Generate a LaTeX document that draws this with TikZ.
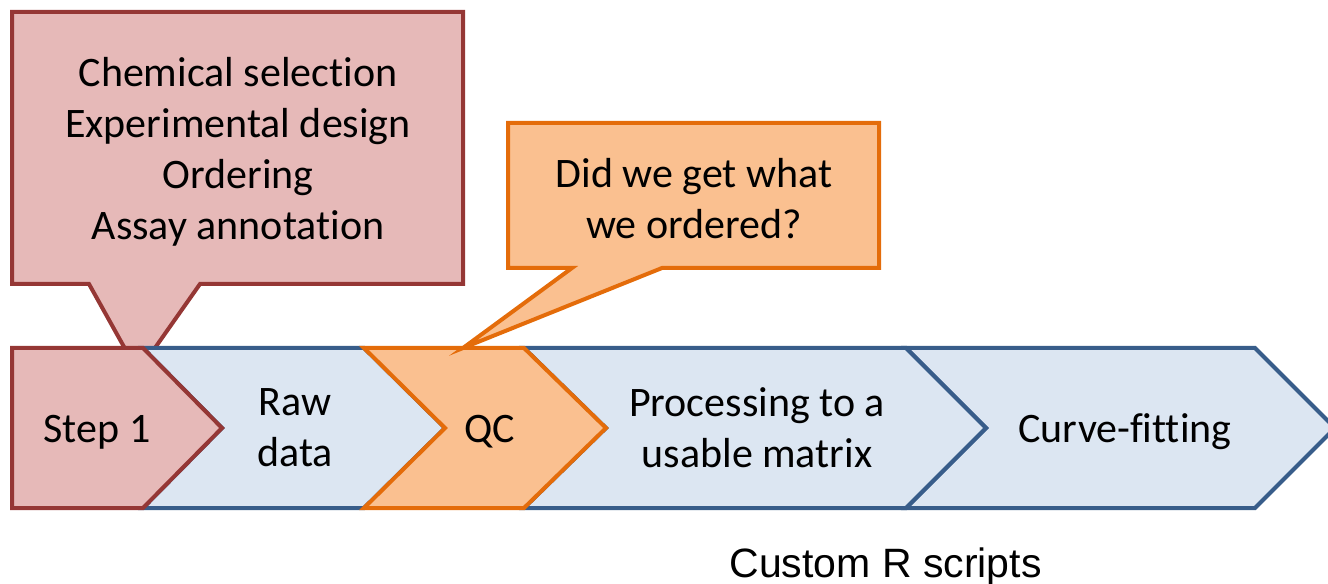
\documentclass[tikz,border=0pt]{standalone}
\usepackage{fontspec}
\setmainfont{Carlito}[Ligatures=NoCommon]
\newfontfamily\arialfont{Liberation Sans}
\definecolor{pinkfill}{HTML}{E6B9B8}
\definecolor{pinkline}{HTML}{953735}
\definecolor{orangefill}{HTML}{FAC090}
\definecolor{orangeline}{HTML}{E46C0A}
\definecolor{bluefill}{HTML}{DCE6F2}
\definecolor{blueline}{HTML}{385D8A}
\begin{document}
\begin{tikzpicture}[x=0.75pt,y=-0.75pt,
  pinkshape/.style={fill=pinkfill,draw=pinkline,line width=3pt,line join=miter},
  orangeshape/.style={fill=orangefill,draw=orangeline,line width=3pt,line join=miter},
  blueshape/.style={fill=bluefill,draw=blueline,line width=3pt,line join=miter},
  lbl/.style={inner sep=0pt,align=center,font=\fontsize{31.5}{38.25}\selectfont,text=black}]
\useasboundingbox (0,0) rectangle (1328,584);
% pink callout (behind)
\draw[pinkshape] (12,12) -- (463,12) -- (463,284) -- (200,284) -- (138,372) -- (89,284) -- (12,284) -- cycle;
\node[lbl] (t1) at (238,152) {Chemical selection\\Experimental design\\Ordering\\Assay annotation};
% chevrons
\draw[blueshape] (906,348) -- (1255,348) -- (1335,428) -- (1255,508) -- (906,508) -- (986,428) -- cycle;
\draw[blueshape] (524,348) -- (906,348) -- (986,428) -- (906,508) -- (524,508) -- (606,428) -- cycle;
\draw[blueshape] (143,348) -- (364,348) -- (445,428) -- (364,508) -- (143,508) -- (222,428) -- cycle;
\draw[orangeshape] (364,348) -- (524,348) -- (606,428) -- (524,508) -- (364,508) -- (445,428) -- cycle;
\draw[pinkshape] (12,348) -- (143,348) -- (222,428) -- (143,508) -- (12,508) -- cycle;
% orange callout
\draw[orangeshape] (508,123) -- (879,123) -- (879,268) -- (662,268) -- (463,348) -- (572,268) -- (508,268) -- cycle;
\node[lbl] (t2) at (694,199) {Did we get what\\we ordered?};
% chevron labels
\node[lbl,anchor=base] (s1) at (97,442) {Step 1};
\node[lbl] (raw) at (295,428) {Raw\\data};
\node[lbl,anchor=base] (qc) at (490,443) {QC};
\node[lbl] (proc) at (757,428) {Processing to a\\usable matrix};
\node[lbl,anchor=base] (curve) at (1125,443) {Curve-fitting};
\node[inner sep=0pt,anchor=base,font=\arialfont\fontsize{30.75}{36}\selectfont] (custom) at (885.5,577) {Custom R scripts};
\end{tikzpicture}
\end{document}
